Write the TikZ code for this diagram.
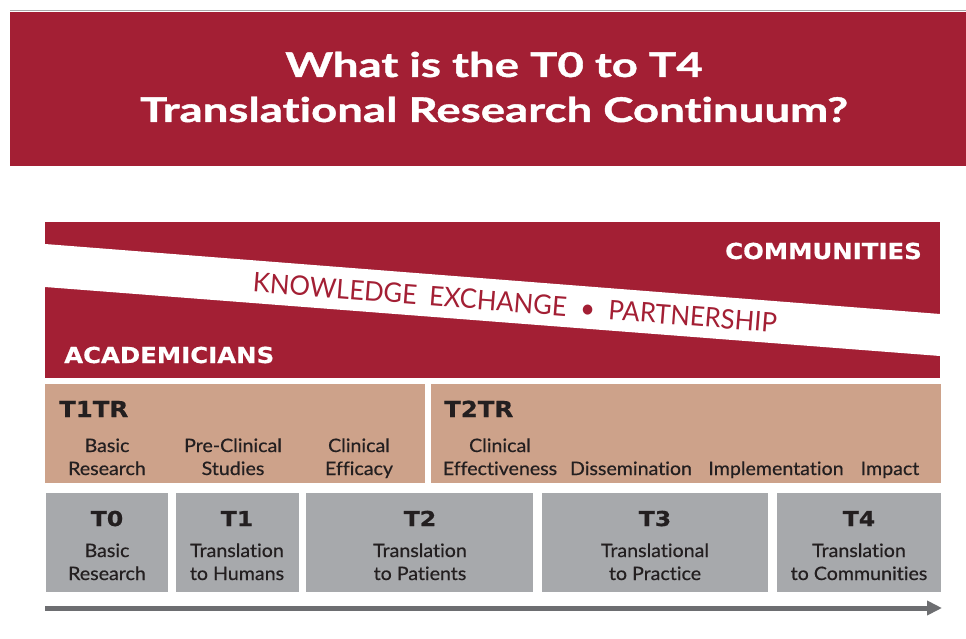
\documentclass[tikz,border=0pt]{standalone}
\usepackage{fontspec}
\usetikzlibrary{arrows.meta}
\setmainfont{Lato}[Ligatures=NoCommon]
\newfontfamily\titlefont{Lato}[Ligatures=NoCommon, FakeStretch=1.34, FakeBold=1.2]
\newfontfamily\bodyfont{Lato}[Ligatures=NoCommon, FakeStretch=1.06, FakeBold=0.5]
\newfontfamily\bandfont{Lato}[Ligatures=NoCommon, FakeStretch=0.95]
\newfontfamily\heavyfont{DejaVu Sans}[FakeStretch=1.11, FakeBold=0.6]
\newfontfamily\grayheavyfont{DejaVu Sans}[FakeStretch=1.15, FakeBold=0.8]
\definecolor{crimson}{HTML}{A31F34}
\definecolor{tanbg}{HTML}{CDA28A}
\definecolor{boxgray}{HTML}{A7A9AC}
\definecolor{ink}{HTML}{231F20}
\definecolor{arrowgray}{HTML}{6D6E71}
\tikzset{
  panel/.style={anchor=north west, inner sep=0pt, outer sep=0pt},
  tanbox/.style={panel, fill=tanbg},
  graybox/.style={panel, fill=boxgray},
  titletext/.style={anchor=base, text=white, inner sep=0pt, font=\titlefont\bfseries\fontsize{34}{40}\selectfont},
  heavylabel/.style={anchor=base west, inner sep=0pt, text=ink, font=\heavyfont\bfseries\fontsize{22}{24}\selectfont},
  graytitle/.style={anchor=base, inner sep=0pt, text=ink, font=\grayheavyfont\bfseries\fontsize{20.5}{24}\selectfont},
  bodytext/.style={anchor=base, inner sep=0pt, text=ink, align=center, font=\bodyfont\fontsize{18.5}{23}\selectfont},
  whitelabel/.style={inner sep=0pt, text=white, font=\heavyfont\bfseries\fontsize{22}{24}\selectfont},
}
\begin{document}
\begin{tikzpicture}[x=1pt,y=-1pt]
\useasboundingbox (0,0) rectangle (966,639);
% title banner
\draw[gray!70, line width=1.5pt] (10,10.5) -- (966,10.5);
\node[panel, fill=crimson, minimum width=956pt, minimum height=154pt] (banner) at (10,12) {};
\node[titletext] (title1) at (494,77) {What is the T0 to T4};
\node[titletext] (title2) at (494,122) {Translational Research Continuum?};
% red panel with white band
\node[panel, fill=crimson, minimum width=895pt, minimum height=156pt] (redpanel) at (45,222) {};
\fill[white] (45,244) -- (940,314) -- (940,356) -- (45,287) -- cycle;
\coordinate (bandL) at (45,266);
\coordinate (bandR) at (940,335.5);
\path (bandL) -- (bandR) node[pos=0.525, sloped, text=crimson, inner sep=0pt, font=\bandfont\fontsize{27}{30}\selectfont] (kep) {KNOWLEDGE\hspace{0.45em}EXCHANGE\hspace{0.5em}•\hspace{0.5em}PARTNERSHIP};
\node[whitelabel, anchor=base west] (acad) at (64,363) {ACADEMICIANS};
\node[whitelabel, anchor=base east] (comm) at (922,259) {COMMUNITIES};
% tan row
\node[tanbox, minimum width=380pt, minimum height=99pt] (t1tr) at (45,384) {};
\node[tanbox, minimum width=510pt, minimum height=99pt] (t2tr) at (431,384) {};
\node[heavylabel] (t1trl) at (59,417) {T1TR};
\node[heavylabel] (t2trl) at (444,417) {T2TR};
\node[bodytext] (basicr) at (107,475) {Basic\\Research};
\node[bodytext] (precl) at (233,475) {Pre-Clinical\\Studies};
\node[bodytext] (cleff) at (359,475) {Clinical\\Efficacy};
\node[bodytext] (clfx) at (500,475) {Clinical\\Effectiveness};
\node[bodytext] (dissem) at (631,475) {Dissemination};
\node[bodytext] (impl) at (776,475) {Implementation};
\node[bodytext] (impact) at (890,475) {Impact};
% gray boxes
\node[graybox, minimum width=122pt, minimum height=99pt] (b0) at (46,493) {};
\node[graybox, minimum width=123pt, minimum height=99pt] (b1) at (176,493) {};
\node[graybox, minimum width=227pt, minimum height=99pt] (b2) at (306,493) {};
\node[graybox, minimum width=226pt, minimum height=99pt] (b3) at (542,493) {};
\node[graybox, minimum width=164pt, minimum height=99pt] (b4) at (777,493) {};
\node[graytitle] (l0) at (107,526) {T0};
\node[graytitle] (l1) at (237,526) {T1};
\node[graytitle] (l2) at (420,526) {T2};
\node[graytitle] (l3) at (655,526) {T3};
\node[graytitle] (l4) at (859,526) {T4};
\node[bodytext] (d0) at (107,580) {Basic\\Research};
\node[bodytext] (d1) at (237,580) {Translation\\to Humans};
\node[bodytext] (d2) at (420,580) {Translation\\to Patients};
\node[bodytext] (d3) at (655,580) {Translational\\to Practice};
\node[bodytext] (d4) at (859,580) {Translation\\to Communities};
% arrow
\coordinate (arrS) at (45,608);
\coordinate (arrE) at (942,608);
\draw[arrowgray, line width=5pt, -{Triangle[length=15pt,width=14pt]}] (arrS) -- (arrE);
\end{tikzpicture}
\end{document}
